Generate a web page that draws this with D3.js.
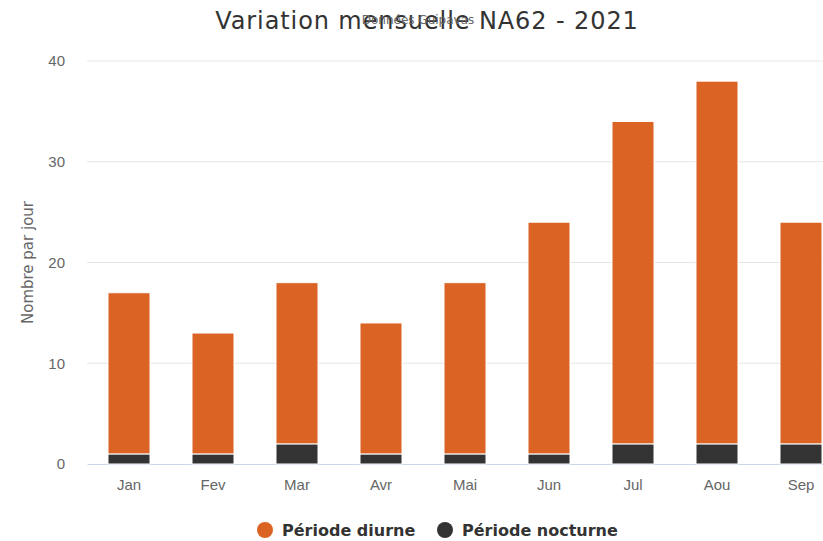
<!DOCTYPE html>
<html>
<head>
<meta charset="utf-8">
<script src="https://cdn.jsdelivr.net/npm/d3@7"></script>
<style>
  body { margin: 0; background: #fff; }
  svg { display: block; font-family: "DejaVu Sans", Verdana, sans-serif; }
  .tick text { fill: #666; }
</style>
</head>
<body>
<div id="chart"></div>
<script>
const months = ['Jan', 'Fev', 'Mar', 'Avr', 'Mai', 'Jun', 'Jul', 'Aou', 'Sep'];
const diurne = [16, 12, 16, 13, 17, 23, 32, 36, 22];
const nocturne = [1, 1, 2, 1, 1, 1, 2, 2, 2];
const yTicks = [0, 10, 20, 30, 40];

const width = 823;
const height = 541;
const margin = {top: 61, left: 87, bottom: 77};
const bandWidth = 84;
const plotWidth = months.length * bandWidth;
const plotHeight = height - margin.top - margin.bottom;

const colors = {diurne: '#db6323', nocturne: '#333333'};

let svg = d3.select('#chart').append('svg')
  .attr('width', width)
  .attr('height', height)

svg.append('text')
  .attr('x', 427)
  .attr('y', 29)
  .attr('text-anchor', 'middle')
  .style('font-size', '24px')
  .style('letter-spacing', '0.9px')
  .style('fill', '#333')
  .text('Variation mensuelle NA62 - 2021')

svg.append('text')
  .attr('x', 418)
  .attr('y', 24)
  .attr('text-anchor', 'middle')
  .style('font-size', '12px')
  .style('fill', '#666')
  .text('Données Guipavas')

let content = svg.append('g')
  .attr('transform', `translate(${margin.left}, ${margin.top})`)

let x = d3.scaleBand()
  .domain(months)
  .range([0, plotWidth])
  .paddingInner(0.5)
  .paddingOuter(0.25)

let y = d3.scaleLinear()
  .domain([0, 40])
  .range([plotHeight, 0])

// gridlines
content.append('g')
  .selectAll('line')
  .data(yTicks.slice(1))
  .join('line')
    .attr('x1', 0)
    .attr('x2', plotWidth)
    .attr('y1', d => y(d))
    .attr('y2', d => y(d))
    .attr('stroke', '#e6e6e6')

let yAxis = content.append('g')
  .call(d3.axisLeft(y).tickValues(yTicks).tickSize(0).tickPadding(22))
yAxis.select('.domain').remove()
yAxis.selectAll('text').style('font-size', '15px')

let xAxis = content.append('g')
  .attr('transform', `translate(0, ${plotHeight})`)
  .call(d3.axisBottom(x).tickSize(0).tickPadding(15))
xAxis.select('.domain').attr('stroke', '#ccd6eb')
xAxis.selectAll('text').style('font-size', '15px')

svg.append('text')
  .attr('transform', `translate(33, ${margin.top + plotHeight / 2}) rotate(-90)`)
  .attr('text-anchor', 'middle')
  .style('font-size', '15px')
  .style('fill', '#666')
  .text('Nombre par jour')

let stacked = d3.stack().keys(['nocturne', 'diurne'])(
  months.map((m, i) => ({month: m, nocturne: nocturne[i], diurne: diurne[i]}))
)

content.selectAll('g.series')
  .data(stacked)
  .join('g')
    .classed('series', true)
    .attr('fill', d => colors[d.key])
  .selectAll('rect')
  .data(d => d)
  .join('rect')
    .attr('x', d => x(d.data.month))
    .attr('width', x.bandwidth())
    .attr('y', d => y(d[1]))
    .attr('height', d => y(d[0]) - y(d[1]))
    .attr('stroke', '#fff')
    .attr('stroke-width', 1)

// legend
let legendItems = [
  {label: 'Période diurne', color: colors.diurne, x: 265},
  {label: 'Période nocturne', color: colors.nocturne, x: 445}
];

let legend = svg.append('g')
  .selectAll('g')
  .data(legendItems)
  .join('g')
    .attr('transform', d => `translate(${d.x}, 530)`)

legend.append('circle')
  .attr('r', 8)
  .attr('fill', d => d.color)

legend.append('text')
  .attr('x', 17)
  .attr('y', 6)
  .style('font-size', '16px')
  .style('font-weight', 'bold')
  .style('fill', '#333')
  .text(d => d.label)
</script>
</body>
</html>
